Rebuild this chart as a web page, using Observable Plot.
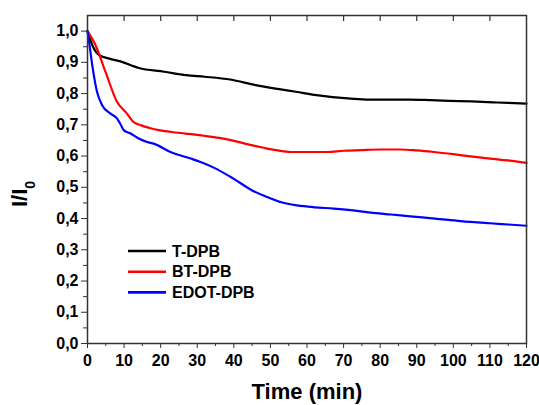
<!DOCTYPE html>
<html><head><meta charset="utf-8">
<script src="https://cdn.jsdelivr.net/npm/d3@7"></script>
<script src="https://cdn.jsdelivr.net/npm/@observablehq/plot@0.6"></script>
<style>html,body{margin:0;padding:0;background:#fff}</style>
</head><body><div id="chart"></div>
<script>
const seriesNames = ["T-DPB", "BT-DPB", "EDOT-DPB"];
const seriesColors = ["#000000", "#ff0000", "#0000ff"];

const timeT = [0, 1.5, 3, 6, 9, 14, 21, 27, 32, 39, 46, 52, 57, 62, 67, 72, 77, 83, 88, 94, 99, 105, 111, 115, 120];
const valT  = [1.0, 0.95, 0.925, 0.912, 0.903, 0.882, 0.870, 0.859, 0.854, 0.845, 0.827, 0.815, 0.806, 0.796, 0.789, 0.784, 0.781, 0.781, 0.781, 0.779, 0.777, 0.775, 0.772, 0.770, 0.768];

const timeBT = [0, 2.2, 4.9, 8.1, 10.8, 12.5, 14.5, 17, 19.5, 23, 26.8, 31.8, 36, 39.1, 43, 46, 49.1, 52, 55.5, 60, 65.5, 70, 74.6, 80, 85.6, 90, 94.7, 100, 104.7, 110, 115, 120];
const valBT  = [1.0, 0.955, 0.87, 0.773, 0.736, 0.71, 0.699, 0.69, 0.683, 0.677, 0.672, 0.665, 0.658, 0.651, 0.640, 0.632, 0.624, 0.618, 0.613, 0.613, 0.613, 0.617, 0.619, 0.621, 0.621, 0.618, 0.613, 0.606, 0.599, 0.592, 0.586, 0.578];

const timeEDOT = [0, 0.5, 1.3, 2.6, 4, 6.3, 8.1, 9.1, 9.9, 11.8, 14, 16.3, 18.1, 22.7, 28.2, 30.9, 34.5, 40, 45, 49.1, 53, 57.3, 62, 67.3, 72, 77.4, 83, 88.3, 95, 102, 110, 115, 120];
const valEDOT  = [1.0, 0.96, 0.891, 0.806, 0.763, 0.736, 0.720, 0.700, 0.683, 0.672, 0.656, 0.645, 0.640, 0.613, 0.592, 0.581, 0.563, 0.527, 0.49, 0.469, 0.452, 0.442, 0.436, 0.432, 0.427, 0.419, 0.413, 0.407, 0.400, 0.392, 0.385, 0.381, 0.377];

const xTicks = [0, 10, 20, 30, 40, 50, 60, 70, 80, 90, 100, 110, 120];
const xMinorTicks = [5, 15, 25, 35, 45, 55, 65, 75, 85, 95, 105, 115];
const xTopTicks = [10, 20, 30, 40, 50, 60, 70, 80, 90, 100, 110];
const yTicks = [0, 0.1, 0.2, 0.3, 0.4, 0.5, 0.6, 0.7, 0.8, 0.9, 1.0];
const yMinorTicks = [0.05, 0.15, 0.25, 0.35, 0.45, 0.55, 0.65, 0.75, 0.85, 0.95];

const allTimes = [timeT, timeBT, timeEDOT];
const allVals = [valT, valBT, valEDOT];
const data = [];
seriesNames.forEach((s, i) => allTimes[i].forEach((t, j) => data.push({s, t, v: allVals[i][j]})));

const fmt = d => d.toFixed(1).replace(".", ",");
const FONT = "Arial, 'Liberation Sans', Helvetica, sans-serif";

const chart = Plot.plot({
  width: 539, height: 405,
  marginLeft: 87, marginRight: 13, marginTop: 15, marginBottom: 62,
  style: {fontFamily: FONT, fontSize: "16px", fontWeight: "bold", background: "#fff", color: "#000"},
  x: {domain: [0, 120]},
  y: {domain: [0, 1.05]},
  color: {domain: seriesNames, range: seriesColors},
  marks: [
    Plot.line(data, {x: "t", y: "v", z: "s", stroke: "s", strokeWidth: 2.2, curve: "monotone-x"}),
    Plot.axisX({ticks: xTicks, tickSize: 5, tickPadding: 6, tickFormat: d => String(d), label: null, stroke: "#333", fill: "#000", fontSize: 16}),
    Plot.axisX({ticks: xMinorTicks, tickSize: 3, tickFormat: () => "", label: null, stroke: "#333"}),
    Plot.axisY({ticks: yTicks, tickSize: 6, tickPadding: 3, tickFormat: fmt, label: null, stroke: "#333", fill: "#000", fontSize: 16}),
    Plot.axisY({ticks: yMinorTicks, tickSize: 4, tickFormat: () => "", label: null, stroke: "#333"}),
    Plot.tickX(xTopTicks, {x: d => d, insetBottom: 322, stroke: "#333", strokeWidth: 1.2}),
    Plot.frame({stroke: "#333", strokeWidth: 1.5})
  ]
});
document.getElementById("chart").appendChild(chart);

const svg = d3.select(chart);
// x-axis title
svg.append("text")
  .attr("x", 307).attr("y", 399)
  .attr("text-anchor", "middle")
  .attr("font-family", FONT).attr("font-weight", "bold").attr("font-size", 22)
  .attr("fill", "#000")
  .text("Time (min)");
// y-axis title I/I0
const yl = svg.append("text")
  .attr("transform", "translate(27,194) rotate(-90)")
  .attr("text-anchor", "middle")
  .attr("font-family", FONT).attr("font-weight", "bold").attr("font-size", 22)
  .attr("fill", "#000");
yl.append("tspan").text("I/I");
yl.append("tspan").attr("dy", 8).attr("font-size", 14).text("0");
// legend
const leg = svg.append("g");
seriesNames.forEach((s, i) => {
  const y = 251 + i * 20.7;
  leg.append("line").attr("x1", 128).attr("x2", 166).attr("y1", y).attr("y2", y)
    .attr("stroke", seriesColors[i]).attr("stroke-width", 2.6);
  leg.append("text").attr("x", 172).attr("y", y).attr("dy", "0.35em")
    .attr("text-anchor", "start")
    .attr("font-family", FONT).attr("font-weight", "bold").attr("font-size", 16)
    .attr("fill", "#000").text(s);
});
</script>
</body></html>
